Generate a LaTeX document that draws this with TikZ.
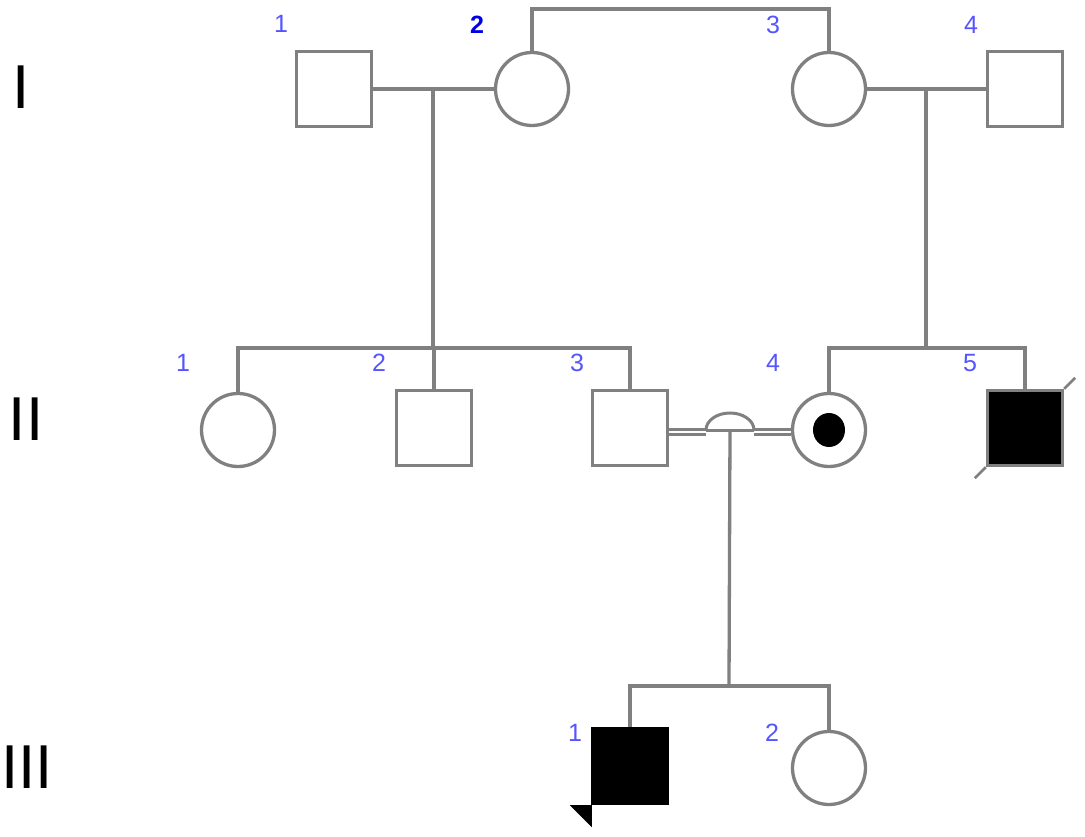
\documentclass[tikz,border=0pt]{standalone}
\usepackage{fontspec}
\setmainfont{Liberation Sans}
\usetikzlibrary{shapes.geometric}
\definecolor{lg}{RGB}{128,128,128}
\definecolor{numblue}{RGB}{85,85,255}
\definecolor{boldblue}{RGB}{0,0,230}
\begin{document}
\begin{tikzpicture}[x=1pt,y=-1pt,
  line/.style={draw=lg, line width=3.3pt},
  dbl/.style={draw=lg, line width=2.6pt, double=white, double distance=2.6pt},
  male/.style={rectangle, draw=lg, line width=3.3pt, minimum size=75pt, inner sep=0pt, fill=white},
  female/.style={circle, draw=lg, line width=3.3pt, minimum size=73pt, inner sep=0pt, fill=white},
  num/.style={text=numblue, font=\fontsize{25}{30}\selectfont, inner sep=0pt},
  gen/.style={font=\fontsize{62}{70}\selectfont, inner sep=0pt}]
\useasboundingbox[fill=white] (0,0) rectangle (1085,837);

% generation labels
\node[gen] (gI) at (21.5,87.5) {I};
\node[gen] (gII) at (26,419.5) {II};
\node[gen] (gIII) at (27,767.5) {III};

% coordinates for connectors
\coordinate (m1) at (433,89);
\coordinate (s1) at (433,348);
\coordinate (m2) at (926,89);
\coordinate (s2) at (926,348);
\coordinate (hl) at (706,432);
\coordinate (hm) at (730,432);
\coordinate (hr) at (754,432);
\coordinate (s3) at (729,686);
\coordinate (top) at (680,9);

% individuals
\node[male] (I1) at (334,89) {};
\node[female] (I2) at (532,89) {};
\node[female] (I3) at (829,89) {};
\node[male] (I4) at (1025,89) {};

\node[female] (II1) at (238,430) {};
\node[male] (II2) at (434,428) {};
\node[male] (II3) at (630,428) {};
\node[female] (II4) at (829,430) {};
\node[male, fill=black] (II5) at (1025,428) {};

\node[male, fill=black, draw=black] (III1) at (630,766) {};
\node[female] (III2) at (829,768) {};

% carrier dot
\node[ellipse, fill=black, minimum width=32pt, minimum height=34pt, inner sep=0pt] (II4dot) at (II4.center) {};

% connectors generation I
\draw[line] (I2.north) |- (top) -| (I3.north);
\draw[line] (I1.east) -- (I2.west);
\draw[line] (I3.east) -- (I4.west);
\draw[line] (m1) -- (s1);
\draw[line] (m2) -- (s2);

% sibships generation II
\draw[line] (II1.north) |- (s1) -| (II3.north);
\draw[line] (II2.north) -- (II2.north |- s1);
\draw[line] (II4.north) |- (s2) -| (II5.north);

% consanguineous marriage
\draw[dbl] (II3.east |- hl) -- (hl);
\draw[dbl] (hr) -- (II4.west |- hr);
\draw[line, line width=3pt] ([yshift=2pt]hl) arc[start angle=180, end angle=0, x radius=24pt, y radius=17pt];
\draw[line, line width=3pt] ([yshift=2pt]hl) -- ([yshift=2pt]hr);
\draw[line] ([yshift=2pt]hm) -- (s3);

% sibship generation III
\draw[line] (III1.north) |- (s3) -| (III2.north);

% deceased slash
\draw[line, line width=2.8pt] (II5.south west) -- ++(-11,11);
\draw[line, line width=2.8pt] (II5.north east) -- ++(11,-11);

% proband arrow
\fill[black] ([xshift=-21pt]III1.south west) -- ([xshift=1pt]III1.south west) -- ([xshift=1pt,yshift=-22pt]III1.south west) -- cycle;

% numbers
\node[num] (nI1) at (281,24) {1};
\node[num, text=boldblue, font=\fontsize{25}{30}\selectfont\bfseries] (nI2) at (477,25) {2};
\node[num] (nI3) at (773,25) {3};
\node[num] (nI4) at (971,25) {4};
\node[num] (nII1) at (183,363) {1};
\node[num] (nII2) at (379,363) {2};
\node[num] (nII3) at (577,363) {3};
\node[num] (nII4) at (773,363) {4};
\node[num] (nII5) at (970,363) {5};
\node[num] (nIII1) at (575,733) {1};
\node[num] (nIII2) at (772,733) {2};
\end{tikzpicture}
\end{document}
